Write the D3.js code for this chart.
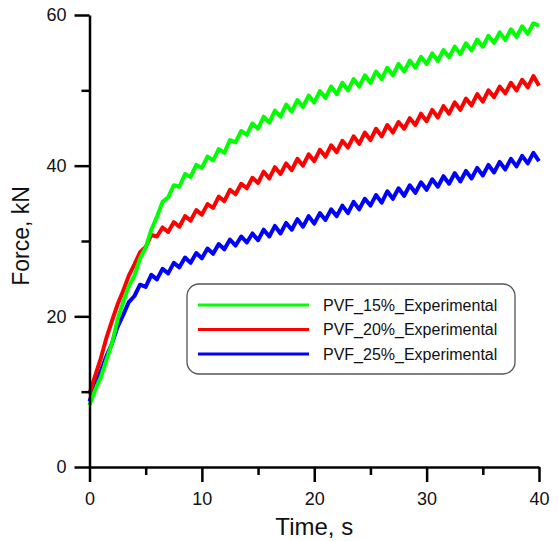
<!DOCTYPE html>
<html lang="en">
<head>
    <meta charset="UTF-8">
    <title>Force vs time</title>
    <script src="https://cdnjs.cloudflare.com/ajax/libs/d3/7.8.5/d3.min.js"></script>
    <style>
        body { margin: 0; background: #fff; }
        text { font-family: "Liberation Sans", Arial, sans-serif; fill: #111; }
    </style>
</head>
<body>
<div id="chart"></div>
<script>
    var times = [0, 0.5, 1, 1.5, 2, 2.5, 3, 3.5, 4, 4.5, 5, 5.5, 6, 6.5, 7, 7.5, 8, 8.5, 9, 9.5,
        10, 10.5, 11, 11.5, 12, 12.5, 13, 13.5, 14, 14.5, 15, 15.5, 16, 16.5, 17, 17.5, 18, 18.5, 19, 19.5,
        20, 20.5, 21, 21.5, 22, 22.5, 23, 23.5, 24, 24.5, 25, 25.5, 26, 26.5, 27, 27.5, 28, 28.5, 29, 29.5,
        30, 30.5, 31, 31.5, 32, 32.5, 33, 33.5, 34, 34.5, 35, 35.5, 36, 36.5, 37, 37.5, 38, 38.5, 39, 39.5, 40];

    // force, kN
    var pvf15 = [8.2, 10.2, 11.9, 14.2, 16.4, 19.6, 21.9, 24.0, 25.4, 27.7, 29.1, 31.5, 33.2, 35.2, 35.8, 37.4, 37.2, 38.9, 38.5, 40.1,
        39.7, 41.2, 40.7, 42.2, 41.7, 43.4, 43.1, 44.6, 44.1, 45.6, 44.9, 46.5, 45.7, 47.3, 46.5, 48.1, 47.2, 48.7, 47.8, 49.3,
        48.4, 49.9, 49.0, 50.5, 49.5, 51.0, 50.0, 51.5, 50.5, 52.0, 51.0, 52.5, 51.5, 53.0, 52.0, 53.5, 52.5, 53.95, 53.0, 54.45,
        53.5, 54.9, 53.9, 55.35, 54.4, 55.8, 54.8, 56.25, 55.3, 56.75, 55.8, 57.25, 56.3, 57.7, 56.7, 58.1, 57.1, 58.5, 57.5, 58.9, 58.6];
    var pvf20 = [9.7, 12.1, 14.4, 17.1, 19.4, 21.6, 23.4, 25.4, 26.9, 28.5, 29.2, 30.8, 30.6, 31.8, 31.2, 32.5, 31.9, 33.3, 32.7, 34.1,
        33.5, 34.9, 34.4, 35.9, 35.3, 36.8, 36.2, 37.6, 37.0, 38.4, 37.7, 39.2, 38.3, 39.8, 38.9, 40.3, 39.4, 40.9, 40.0, 41.5,
        40.6, 42.1, 41.2, 42.7, 41.8, 43.3, 42.4, 43.9, 42.9, 44.4, 43.4, 44.9, 43.9, 45.4, 44.4, 45.8, 44.9, 46.3, 45.4, 46.9,
        45.9, 47.4, 46.4, 47.9, 46.9, 48.4, 47.4, 48.9, 48.0, 49.5, 48.5, 50.0, 49.1, 50.5, 49.6, 51.0, 50.0, 51.4, 50.4, 51.9, 50.6];
    var pvf25 = [8.7, 10.9, 12.7, 14.7, 16.4, 18.6, 20.2, 21.9, 22.7, 24.2, 23.9, 25.5, 24.9, 26.3, 25.7, 27.1, 26.5, 27.8, 27.1, 28.4,
        27.7, 29.0, 28.3, 29.6, 28.9, 30.2, 29.4, 30.6, 29.8, 31.0, 30.1, 31.5, 30.6, 32.0, 31.0, 32.4, 31.5, 32.9, 31.9, 33.3,
        32.3, 33.7, 32.8, 34.2, 33.3, 34.7, 33.7, 35.2, 34.2, 35.6, 34.7, 36.1, 35.1, 36.6, 35.6, 37.0, 36.0, 37.4, 36.4, 37.8,
        36.8, 38.2, 37.2, 38.6, 37.6, 39.0, 37.9, 39.3, 38.3, 39.7, 38.7, 40.1, 39.1, 40.5, 39.5, 40.9, 39.9, 41.3, 40.3, 41.7, 40.6];

    var seriesNames = ['PVF_15%_Experimental', 'PVF_20%_Experimental', 'PVF_25%_Experimental'];
    var seriesColors = ['#00ff00', '#ff0000', '#0000ff'];

    var xMajor = [0, 10, 20, 30, 40],
        xMinor = [5, 15, 25, 35],
        yMajor = [0, 20, 40, 60],
        yMinor = [10, 30, 50];

    var width = 558,
        height = 541;

    var x = d3.scaleLinear().domain([0, 40]).range([89.5, 539]);
    var y = d3.scaleLinear().domain([0, 60]).range([467, 15]);

    var svg = d3.select('#chart')
        .append('svg')
        .attr('width', width)
        .attr('height', height);

    var series = [pvf15, pvf20, pvf25].map(function (vals, i) {
        return {
            name: seriesNames[i],
            color: seriesColors[i],
            points: times.map(function (t, j) { return [t, vals[j]]; })
        };
    });

    var line = d3.line()
        .x(function (d) { return x(d[0]); })
        .y(function (d) { return y(d[1]); });

    // draw blue first so green sits on top like the original
    svg.append('g')
        .selectAll('path')
        .data(series.slice().reverse())
        .enter()
        .append('path')
        .attr('d', function (d) { return line(d.points); })
        .attr('fill', 'none')
        .attr('stroke', function (d) { return d.color; })
        .attr('stroke-width', 4)
        .attr('stroke-linejoin', 'round');

    // x axis, major + minor ticks
    svg.append('g')
        .attr('transform', 'translate(0,' + y(0) + ')')
        .call(d3.axisBottom(x).tickValues(xMajor).tickSize(15).tickPadding(10).tickSizeOuter(0));
    svg.append('g')
        .attr('transform', 'translate(0,' + y(0) + ')')
        .call(d3.axisBottom(x).tickValues(xMinor).tickSize(8).tickFormat('').tickSizeOuter(0))
        .select('.domain').remove();

    // y axis
    svg.append('g')
        .attr('transform', 'translate(' + x(0) + ',0)')
        .call(d3.axisLeft(y).tickValues(yMajor).tickSize(15).tickPadding(8).tickSizeOuter(0));
    svg.append('g')
        .attr('transform', 'translate(' + x(0) + ',0)')
        .call(d3.axisLeft(y).tickValues(yMinor).tickSize(8).tickFormat('').tickSizeOuter(0))
        .select('.domain').remove();

    svg.selectAll('.domain, .tick line')
        .attr('stroke', '#000')
        .attr('stroke-width', 2.5);
    svg.selectAll('.tick text')
        .attr('font-family', '"Liberation Sans", Arial, sans-serif')
        .attr('font-size', 18)
        .attr('fill', '#111');

    // axis titles
    svg.append('text')
        .attr('x', x(20))
        .attr('y', 535)
        .attr('text-anchor', 'middle')
        .attr('font-size', 24)
        .text('Time, s');

    svg.append('text')
        .attr('transform', 'translate(29,' + 236 + ') rotate(-90)')
        .attr('text-anchor', 'middle')
        .attr('font-size', 23)
        .text('Force, kN');

    // legend
    var legend = svg.append('g')
        .attr('transform', 'translate(187,284)');

    legend.append('rect')
        .attr('width', 328)
        .attr('height', 90)
        .attr('rx', 12)
        .attr('fill', '#fff')
        .attr('stroke', '#555')
        .attr('stroke-width', 1.3);

    var items = legend.selectAll('.item')
        .data(series)
        .enter()
        .append('g')
        .attr('class', 'item')
        .attr('transform', function (d, i) { return 'translate(0,' + (21 + i * 24.5) + ')'; });

    items.append('line')
        .attr('x1', 11)
        .attr('x2', 122)
        .attr('stroke', function (d) { return d.color; })
        .attr('stroke-width', 3);

    items.append('text')
        .attr('x', 136)
        .attr('dy', '0.36em')
        .attr('font-size', 16)
        .text(function (d) { return d.name; });
</script>
</body>
</html>
